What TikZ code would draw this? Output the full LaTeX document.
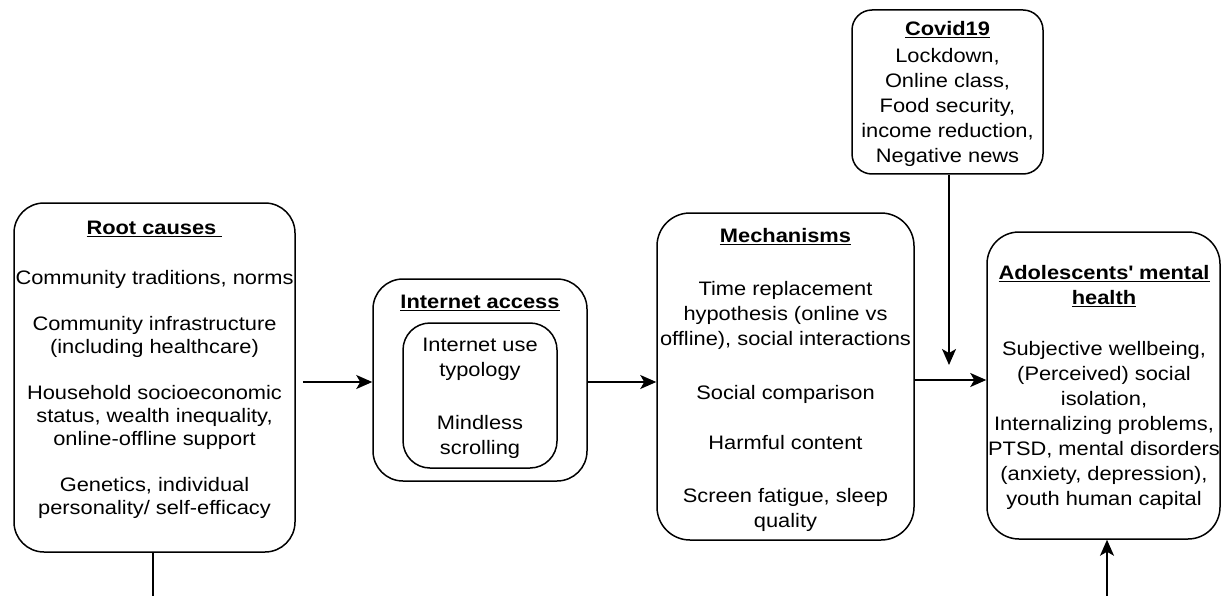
\documentclass[tikz,border=0pt]{standalone}
\usepackage{fontspec}
\setmainfont{Liberation Sans}[FakeStretch=1.12]
\usetikzlibrary{arrows.meta}

\begin{document}
\begin{tikzpicture}[x=1pt,y=-1pt,
    box/.style={draw,line width=1.5pt,inner sep=0pt},
    txt/.style={align=center,inner sep=0pt,anchor=north,font=\fontsize{19.5pt}{25pt}\selectfont},
    flow/.style={-{Stealth[length=16pt,width=14pt,inset=4pt]},line width=1.5pt}]
        \useasboundingbox (0,0) rectangle (1222,596);

        \coordinate (rowA) at (0,382);
        \coordinate (rowB) at (0,380);
        \coordinate (rootend) at (153,600);
        \coordinate (covidend) at (949,365);
        \coordinate (mhin) at (1107,600);

        % boxes
        \node[box,rounded corners=30pt,minimum width=281pt,minimum height=349pt] (root) at (154.5,377.5) {};
        \node[box,rounded corners=30pt,minimum width=214pt,minimum height=202pt] (inet) at (480,380) {};
        \node[box,rounded corners=27pt,minimum width=154pt,minimum height=145pt] (use) at (480,395.5) {};
        \node[box,rounded corners=33pt,minimum width=257pt,minimum height=327pt] (mech) at (785.5,376.5) {};
        \node[box,rounded corners=32pt,minimum width=233pt,minimum height=307pt] (mh) at (1103.5,385.5) {};
        \node[box,rounded corners=20pt,minimum width=191pt,minimum height=164pt] (covid) at (947.5,92) {};

        % texts
        \node[txt,font=\fontsize{19.5pt}{23pt}\selectfont] (roottxt) at (154.5,221) {\underline{\textbf{Root causes\ }}\\[27pt]
            Community traditions, norms\\[23pt]
            Community infrastructure\\(including healthcare)\\[23pt]
            Household socioeconomic\\status, wealth inequality,\\online-offline support\\[23pt]
            Genetics, individual\\personality/ self-efficacy};
        \node[txt] (inettxt) at (480,295) {\underline{\textbf{Internet access}}};
        \node[txt] (usetxt) at (480,338) {Internet use\\typology\\[28pt]Mindless\\scrolling};
        \node[txt] (mechtxt) at (785.5,228) {\underline{\textbf{Mechanisms}}\\[28pt]
            Time replacement\\hypothesis (online vs\\offline), social interactions\\[29pt]
            Social comparison\\[25pt]
            Harmful content\\[28pt]
            Screen fatigue, sleep\\quality};
        \node[txt] (mhtxt) at (1104,265) {\underline{\textbf{Adolescents\textquotesingle\ mental}}\\\underline{\textbf{health}}\\[26pt]
            Subjective wellbeing,\\(Perceived) social\\isolation,\\Internalizing problems,\\PTSD, mental disorders\\(anxiety, depression),\\youth human capital};
        \node[txt] (covidtxt) at (947.5,21) {\underline{\textbf{Covid19}}\\[2pt]
            Lockdown,\\Online class,\\Food security,\\income reduction,\\Negative news};

        % connectors
        \draw[line width=1.5pt] (root.south -| rootend) -- (rootend);
        \draw[flow,shorten <=7pt] (root.east |- rowA) -- (inet.west |- rowA);
        \draw[flow] (inet.east |- rowA) -- (mech.west |- rowA);
        \draw[flow] (mech.east |- rowB) -- (mh.west |- rowB);
        \draw[flow] (covid.south -| covidend) -- (covidend);
        \draw[flow] (mhin) -- (mh.south -| mhin);
    \end{tikzpicture}
\end{document}
